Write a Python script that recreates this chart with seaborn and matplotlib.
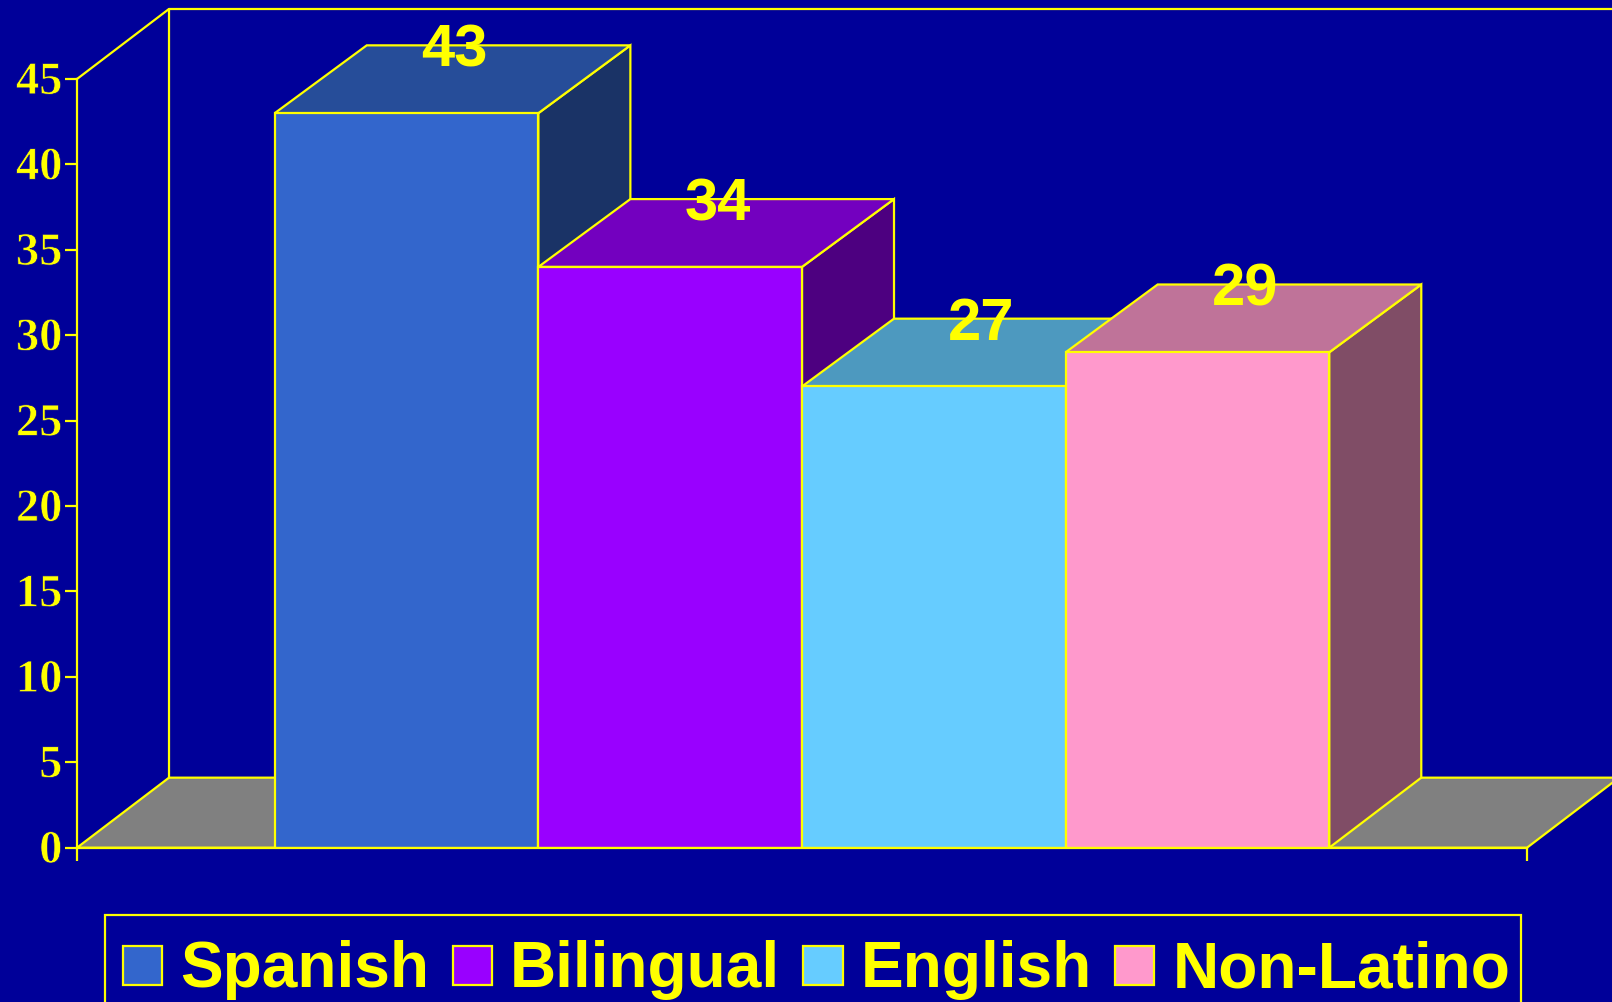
import seaborn as sns
import matplotlib.pyplot as plt
import matplotlib.colors as mcolors
import matplotlib.patheffects as pe
import pandas as pd
from matplotlib.font_manager import FontProperties
from matplotlib.patches import Polygon, Rectangle
from matplotlib.transforms import ScaledTranslation

groups = ['Spanish', 'Bilingual', 'English', 'Non-Latino']
values = [43, 34, 27, 29]
y_ticks = [0, 5, 10, 15, 20, 25, 30, 35, 40, 45]
bar_colors = ['#3366CC', '#9900FF', '#66CCFF', '#FF99CC']

BG = '#000099'
YEL = '#FFFF00'
GREY = '#808080'
LW = 1.6

# depth of the fake 3D box, in data units
DX = 0.349
DY = 4.1
BAR_DY = 3.97


def shade(color, k):
    r, g, b = mcolors.to_rgb(color)
    return (r * k, g * k, b * k)


def add_face(ax, pts, color, z):
    ax.add_patch(Polygon(pts, closed=True, facecolor=color, edgecolor=YEL,
                         linewidth=LW, zorder=z, clip_on=False,
                         joinstyle='miter'))


sns.set_style('white')
fig = plt.figure(figsize=(16.12, 10.03), dpi=100, facecolor=BG)
ax = fig.add_axes([77 / 1612, 1 - 848.7 / 1003, 1450 / 1612, 768.7 / 1003])
ax.set_facecolor('none')

df = pd.DataFrame({'group': groups, 'value': values})
sns.barplot(data=df, x='group', y='value', hue='group', hue_order=groups,
            palette=bar_colors, dodge=False, width=1, saturation=1,
            edgecolor=YEL, linewidth=LW, legend=False, ax=ax)

x0, x1 = -1.25, 4.25
ax.set_xlim(x0, x1)
ax.set_ylim(0, 45)

# floor and back wall
add_face(ax, [(x0, 0), (x0 + DX, DY), (x1 + DX, DY), (x1, 0)], GREY, 1)
ax.plot([x0, x0 + DX, x0 + DX], [45, 45 + DY, DY], color=YEL,
        lw=LW, zorder=1.5, clip_on=False)
ax.plot([x0 + DX, x1 + DX], [45 + DY, 45 + DY], color=YEL, lw=LW, zorder=1.5,
        clip_on=False)

# left to right, each box covers the one before it
z = 2
for cont, col in zip(ax.containers, bar_colors):
    bar = cont[0]
    left = bar.get_x()
    right = left + bar.get_width()
    h = bar.get_height()
    add_face(ax, [(right, 0), (right + DX, DY), (right + DX, h + BAR_DY), (right, h)],
             shade(col, 0.5), z)
    add_face(ax, [(left, h), (left + DX, h + BAR_DY), (right + DX, h + BAR_DY), (right, h)],
             shade(col, 0.75), z + 0.1)
    bar.set_zorder(z + 0.2)
    z += 1

for cont, val in zip(ax.containers, values):
    bar = cont[0]
    ax.annotate(str(val), (bar.get_x() + bar.get_width() / 2 + DX / 2, val + BAR_DY),
                xytext=(1, 1), textcoords='offset points', annotation_clip=False,
                ha='center', va='center_baseline', color=YEL,
                family='Liberation Sans', weight='bold', fontsize=43, zorder=20)

ax.set_xlabel('')
ax.set_ylabel('')
ax.set_yticks(y_ticks)
ax.set_xticks([x0, x1])
ax.set_xticklabels(['', ''])
ax.tick_params(axis='both', length=9, width=LW, color=YEL, left=True, bottom=True)
ax.tick_params(axis='y', pad=1.5, labelcolor=YEL)
nudge = ScaledTranslation(0, 0.8 / 72, fig.dpi_scale_trans)
tick_font = FontProperties(family='Liberation Serif', weight='bold', size=33.5)
for t in ax.get_yticklabels():
    t.set_fontproperties(tick_font)
    # bold is a little too heavy, shave the outline with the background colour
    t.set_path_effects([pe.Stroke(linewidth=0.5, foreground=BG)])
    t.set_transform(t.get_transform() + nudge)

sns.despine(ax=ax, top=True, right=True)
for side in ['left', 'bottom']:
    ax.spines[side].set_color(YEL)
    ax.spines[side].set_linewidth(LW)
    ax.spines[side].set_zorder(15)

# legend box runs off the bottom of the picture, so it is drawn by hand
fig.add_artist(Rectangle((104.6 / 1612, -10 / 1003), (1521 - 104.6) / 1612, (1003 - 916 + 10) / 1003,
                         transform=fig.transFigure, facecolor='none', edgecolor=YEL,
                         linewidth=LW))
leg = ax.legend(handles=[c[0] for c in ax.containers], labels=groups, ncol=4,
                loc='upper left', bbox_to_anchor=(123 / 1612, 1 - 940.5 / 1003),
                bbox_transform=fig.transFigure, borderaxespad=0,
                prop={'family': 'Liberation Sans', 'weight': 'bold', 'size': 46.1},
                labelcolor=YEL, frameon=False, handlelength=0.61, handleheight=0.55,
                handletextpad=0.28, columnspacing=0.37, borderpad=0)
for h in leg.legend_handles:
    h.set_y(h.get_y() - 1)
    h.set_linewidth(LW)

fig.savefig('out.png', dpi=100, facecolor=BG)
